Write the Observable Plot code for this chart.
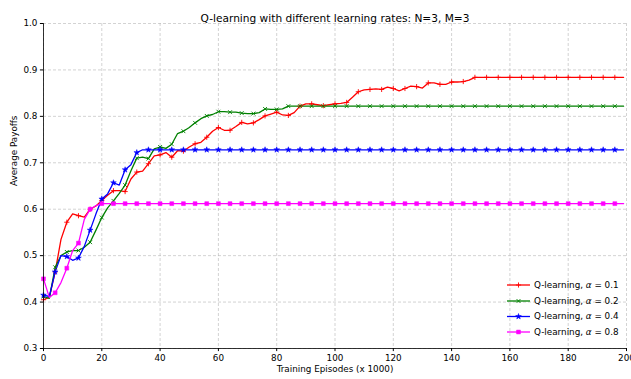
<!DOCTYPE html>
<html><head><meta charset="utf-8">
<script src="https://cdn.jsdelivr.net/npm/d3@7"></script>
<script src="https://cdn.jsdelivr.net/npm/@observablehq/plot@0.6"></script>
<style>
body{margin:0;background:#fff}
#chart{position:relative;width:631px;height:379px}
</style>
</head><body><div id="chart"></div>
<script>
const title = "Q-learning with different learning rates: N=3, M=3";
const xLabel = "Training Episodes (x 1000)";
const yLabel = "Average Payoffs";

const episodes = [0,2,4,6,8,10,12,14,16,18,20,22,24,26,28,30,32,34,36,38,40,42,44,46,48,50,52,54,56,58,60,62,64,66,68,70,72,74,76,78,80,82,84,86,88,90,92,94,96,98,100,102,104,106,108,110,112,114,116,118,120,122,124,126,128,130,132,134,136,138,140,142,144,146,148,150,152,154,156,158,160,162,164,166,168,170,172,174,176,178,180,182,184,186,188,190,192,194,196,198,199];

const alpha01 = [0.405,0.410,0.465,0.535,0.572,0.590,0.586,0.583,0.600,0.607,0.619,0.630,0.640,0.640,0.638,0.665,0.680,0.682,0.698,0.715,0.717,0.722,0.712,0.726,0.725,0.734,0.741,0.744,0.755,0.768,0.776,0.770,0.770,0.778,0.787,0.784,0.786,0.793,0.801,0.805,0.809,0.803,0.802,0.808,0.822,0.827,0.827,0.825,0.823,0.825,0.827,0.828,0.830,0.841,0.853,0.857,0.858,0.859,0.858,0.863,0.860,0.855,0.860,0.865,0.864,0.861,0.872,0.872,0.869,0.869,0.874,0.874,0.875,0.878,0.884,0.884,0.884,0.884,0.884,0.884,0.884,0.884,0.884,0.884,0.884,0.884,0.884,0.884,0.884,0.884,0.884,0.884,0.884,0.884,0.884,0.884,0.884,0.884,0.884,0.884,0.884];

const alpha02 = [0.412,0.408,0.475,0.500,0.508,0.511,0.511,0.518,0.529,0.555,0.582,0.603,0.618,0.634,0.652,0.683,0.710,0.712,0.709,0.730,0.734,0.731,0.740,0.763,0.768,0.776,0.786,0.795,0.801,0.804,0.810,0.810,0.809,0.809,0.807,0.806,0.806,0.808,0.816,0.815,0.815,0.816,0.822,0.822,0.822,0.822,0.822,0.822,0.822,0.822,0.822,0.822,0.822,0.822,0.822,0.822,0.822,0.822,0.822,0.822,0.822,0.822,0.822,0.822,0.822,0.822,0.822,0.822,0.822,0.822,0.822,0.822,0.822,0.822,0.822,0.822,0.822,0.822,0.822,0.822,0.822,0.822,0.822,0.822,0.822,0.822,0.822,0.822,0.822,0.822,0.822,0.822,0.822,0.822,0.822,0.822,0.822,0.822,0.822,0.822,0.822];

const alpha04 = [0.415,0.412,0.465,0.500,0.498,0.490,0.495,0.520,0.555,0.590,0.622,0.633,0.657,0.652,0.685,0.696,0.722,0.728,0.728,0.728,0.728,0.728,0.728,0.728,0.728,0.728,0.728,0.728,0.728,0.728,0.728,0.728,0.728,0.728,0.728,0.728,0.728,0.728,0.728,0.728,0.728,0.728,0.728,0.728,0.728,0.728,0.728,0.728,0.728,0.728,0.728,0.728,0.728,0.728,0.728,0.728,0.728,0.728,0.728,0.728,0.728,0.728,0.728,0.728,0.728,0.728,0.728,0.728,0.728,0.728,0.728,0.728,0.728,0.728,0.728,0.728,0.728,0.728,0.728,0.728,0.728,0.728,0.728,0.728,0.728,0.728,0.728,0.728,0.728,0.728,0.728,0.728,0.728,0.728,0.728,0.728,0.728,0.728,0.728,0.728,0.728];

const alpha08 = [0.450,0.410,0.420,0.442,0.473,0.511,0.527,0.578,0.600,0.608,0.612,0.612,0.612,0.612,0.612,0.612,0.612,0.612,0.612,0.612,0.612,0.612,0.612,0.612,0.612,0.612,0.612,0.612,0.612,0.612,0.612,0.612,0.612,0.612,0.612,0.612,0.612,0.612,0.612,0.612,0.612,0.612,0.612,0.612,0.612,0.612,0.612,0.612,0.612,0.612,0.612,0.612,0.612,0.612,0.612,0.612,0.612,0.612,0.612,0.612,0.612,0.612,0.612,0.612,0.612,0.612,0.612,0.612,0.612,0.612,0.612,0.612,0.612,0.612,0.612,0.612,0.612,0.612,0.612,0.612,0.612,0.612,0.612,0.612,0.612,0.612,0.612,0.612,0.612,0.612,0.612,0.612,0.612,0.612,0.612,0.612,0.612,0.612,0.612,0.612,0.612];

const alphaValues = ["0.1","0.2","0.4","0.8"];
const seriesColors = ["#ff0000","#008000","#0000ff","#ff00ff"];
const seriesSymbols = ["plus","times","star","square"];
const xTicks = [0,20,40,60,80,100,120,140,160,180,200];
const yTicks = [0.3,0.4,0.5,0.6,0.7,0.8,0.9,1.0];

const allSeries = [alpha01, alpha02, alpha04, alpha08];
const symR = {plus: 1.8, times: 1.9, star: 1.8, square: 2.2};
const filledSym = {plus: false, times: false, star: true, square: true};

const lineMarks = [];
const dotMarks = [];
allSeries.forEach((vals, i) => {
  const rows = episodes.map((x, j) => ({x, y: vals[j]}));
  lineMarks.push(Plot.line(rows, {x: "x", y: "y", stroke: seriesColors[i], strokeWidth: 1.3}));
  const sym = seriesSymbols[i];
  const marked = rows.filter(d => d.x % 4 === 0 && d.x <= 196);
  dotMarks.push(Plot.dot(marked, {
    x: "x", y: "y", symbol: () => sym, r: symR[sym],
    fill: filledSym[sym] ? seriesColors[i] : "none",
    stroke: seriesColors[i], strokeWidth: filledSym[sym] ? 0.5 : 0.9
  }));
});

const chart = Plot.plot({
  width: 631, height: 379,
  marginLeft: 43, marginRight: 5, marginTop: 23, marginBottom: 31,
  style: {fontFamily: "DejaVu Sans", fontSize: "8.8px", color: "#000", background: "#fff"},
  x: {domain: [0, 200], label: null},
  y: {domain: [0.3, 1.0], label: null},
  symbol: {type: "identity"},
  marks: [
    Plot.gridX(xTicks, {stroke: "#b0b0b0", strokeOpacity: 0.7, strokeWidth: 0.8, strokeDasharray: "3,2"}),
    Plot.gridY(yTicks, {stroke: "#b0b0b0", strokeOpacity: 0.7, strokeWidth: 0.8, strokeDasharray: "3,2"}),
    ...lineMarks,
    ...dotMarks,
    Plot.ruleX([0], {stroke: "#000", strokeWidth: 0.8}),
    Plot.ruleY([0.3], {stroke: "#000", strokeWidth: 0.8}),
    Plot.axisX(xTicks, {tickSize: 3.1, tickPadding: 3, label: null, stroke: "#000", fill: "#000", fontSize: 8.8}),
    Plot.axisY(yTicks, {tickSize: 3.1, tickPadding: 3, label: null, tickFormat: d => d.toFixed(1), stroke: "#000", fill: "#000", fontSize: 8.8}),
    Plot.text([title], {frameAnchor: "top", dy: -9, fontSize: 10.6, fill: "#000"}),
    Plot.text([xLabel], {frameAnchor: "bottom", dy: 23, fontSize: 8.8, fill: "#000"}),
    Plot.text([yLabel], {frameAnchor: "left", dx: -29, rotate: -90, fontSize: 8.8, fill: "#000"})
  ]
});

document.getElementById("chart").appendChild(chart);

// legend (lower right, inside plot area)
const svg = d3.select(chart.tagName.toLowerCase() === "svg" ? chart : chart.querySelector("svg"));
const symMap = {plus: d3.symbolPlus, times: d3.symbolTimes, star: d3.symbolStar, square: d3.symbolSquare};
const lg = svg.append("g").attr("font-family", "DejaVu Sans").attr("font-size", 8.8).attr("text-anchor", "start");
const rowY = [285, 301, 316.5, 332];
alphaValues.forEach((a, i) => {
  const g = lg.append("g").attr("transform", `translate(0,${rowY[i]})`);
  g.append("line").attr("x1", 507).attr("x2", 530).attr("y1", 0).attr("y2", 0)
    .attr("stroke", seriesColors[i]).attr("stroke-width", 1.3);
  const sym = seriesSymbols[i];
  const r = symR[sym];
  g.append("path").attr("transform", "translate(518.5,0)")
    .attr("d", d3.symbol(symMap[sym], r * r * Math.PI)())
    .attr("fill", filledSym[sym] ? seriesColors[i] : "none")
    .attr("stroke", seriesColors[i]).attr("stroke-width", filledSym[sym] ? 0.5 : 0.9);
  const t = g.append("text").attr("x", 534).attr("y", 0).attr("dy", "0.32em")
    .attr("fill", "#000").attr("text-anchor", "start");
  t.append("tspan").text("Q-learning, ");
  t.append("tspan").attr("font-style", "italic").text("α");
  t.append("tspan").text(" = " + a);
});
</script>
</body></html>
